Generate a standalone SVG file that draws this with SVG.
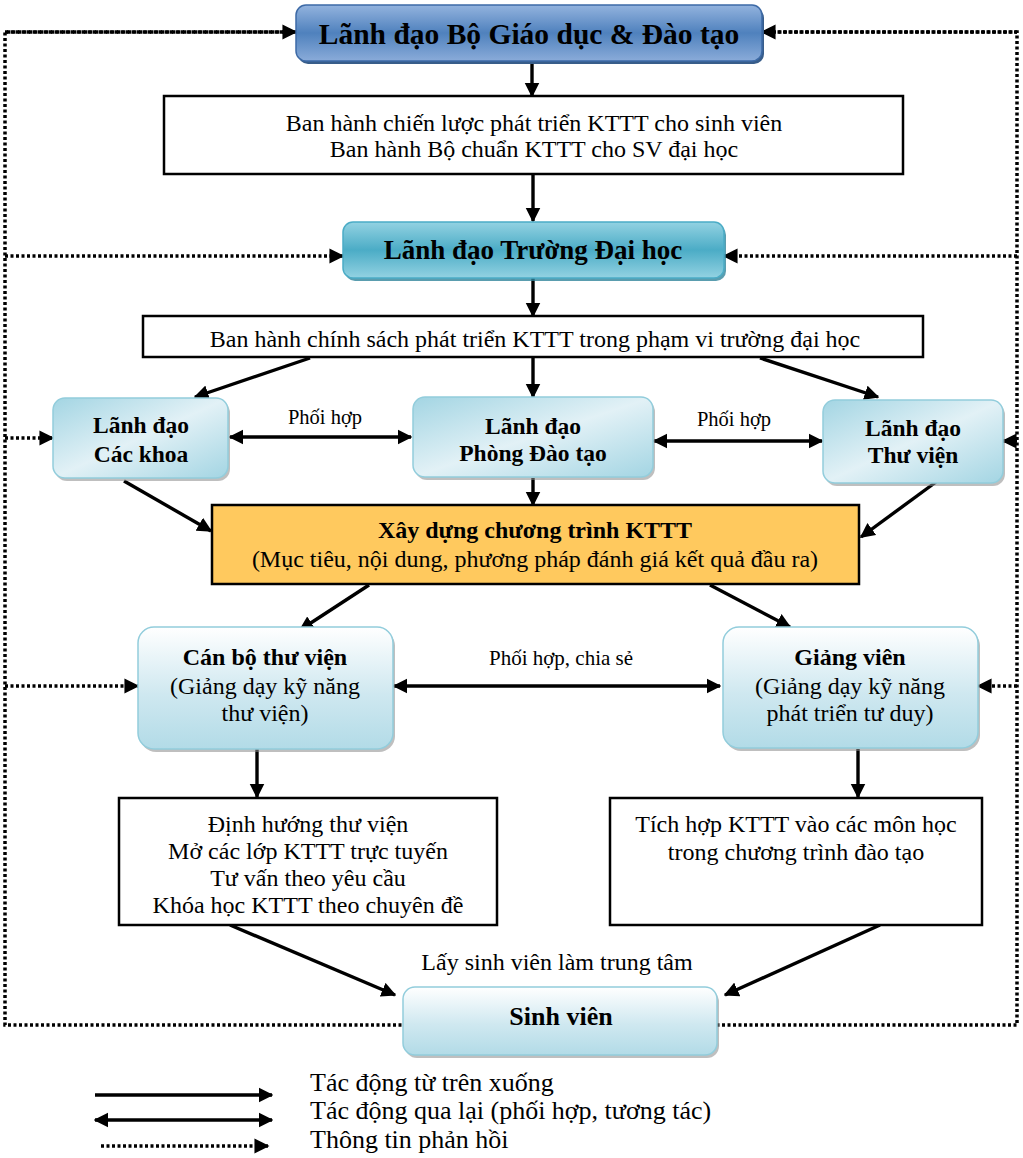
<svg xmlns="http://www.w3.org/2000/svg" width="1023" height="1158" viewBox="0 0 1023 1158">
<defs>
<linearGradient id="gBlue" x1="0" y1="0" x2="0" y2="1">
<stop offset="0" stop-color="#93b3de"/><stop offset="0.5" stop-color="#4f81bd"/><stop offset="1" stop-color="#8aabd9"/>
</linearGradient>
<linearGradient id="gTeal" x1="0" y1="0" x2="0" y2="1">
<stop offset="0" stop-color="#93d2e2"/><stop offset="0.5" stop-color="#4bacc6"/><stop offset="1" stop-color="#93d2e2"/>
</linearGradient>
<linearGradient id="gDiag" x1="0" y1="0" x2="1" y2="1">
<stop offset="0" stop-color="#a3d5e3"/><stop offset="0.5" stop-color="#e2f1f6"/><stop offset="1" stop-color="#a3d5e3"/>
</linearGradient>
<linearGradient id="gVert" x1="0" y1="0" x2="0" y2="1">
<stop offset="0" stop-color="#ffffff"/><stop offset="0.55" stop-color="#cfe8f0"/><stop offset="1" stop-color="#b2dbe7"/>
</linearGradient>
<marker id="ah" viewBox="0 0 10 10" refX="9" refY="5" markerWidth="4.4" markerHeight="4.6" orient="auto-start-reverse" markerUnits="strokeWidth">
<path d="M0,0 L10,5 L0,10 z" fill="#000"/>
</marker>
<marker id="ahd" viewBox="0 0 10 10" refX="9" refY="5" markerWidth="4.3" markerHeight="4.6" orient="auto-start-reverse" markerUnits="strokeWidth">
<path d="M0,0 L10,5 L0,10 z" fill="#000"/>
</marker>
</defs>
<style>
text{font-family:"Liberation Serif","Times New Roman",serif;fill:#000;text-anchor:middle}
.b{font-weight:bold}
.plain{fill:#fff;stroke:#000;stroke-width:2.5}
.light{stroke:#92cddc;stroke-width:1.5}
.shadow{fill:#8a8a8a;opacity:0.55}
.solid{stroke:#000;stroke-width:3.4;fill:none;marker-end:url(#ah)}
.both{stroke:#000;stroke-width:3.4;fill:none;marker-end:url(#ah);marker-start:url(#ah)}
.dot{stroke:#000;stroke-width:3.5;fill:none;stroke-dasharray:3 2.5}
.dota{stroke:#000;stroke-width:3.5;fill:none;stroke-dasharray:3 2.5;marker-end:url(#ahd)}
</style>
<rect width="1023" height="1158" fill="#fff"/>

<g id="connectors">
<polyline class="dot" points="296,32 5,32 5,1025 403,1025"/>
<polyline class="dot" points="762,32 1017,32 1017,1025 717,1025"/>
<line class="dota" x1="5" y1="32" x2="296" y2="32"/>
<line class="dota" x1="1017" y1="32" x2="762" y2="32"/>
<line class="dota" x1="5" y1="256" x2="343" y2="256"/>
<line class="dota" x1="1017" y1="256" x2="724" y2="256"/>
<line class="dota" x1="5" y1="438" x2="53" y2="438"/>
<line class="dota" x1="1017" y1="441" x2="1003" y2="441"/>
<line class="dota" x1="5" y1="686" x2="138" y2="686"/>
<line class="dota" x1="1017" y1="686" x2="978" y2="686"/>
<line class="solid" x1="532" y1="61" x2="532" y2="96"/>
<line class="solid" x1="533" y1="174" x2="533" y2="221"/>
<line class="solid" x1="533" y1="278" x2="533" y2="316"/>
<line class="solid" x1="310" y1="358" x2="195" y2="397"/>
<line class="solid" x1="533" y1="358" x2="533" y2="397"/>
<line class="solid" x1="760" y1="358" x2="878" y2="397"/>
<line class="solid" x1="124" y1="481" x2="211" y2="531"/>
<line class="solid" x1="533" y1="478" x2="533" y2="505"/>
<line class="solid" x1="936" y1="482" x2="861" y2="537"/>
<line class="solid" x1="369" y1="585" x2="300" y2="630"/>
<line class="solid" x1="710" y1="585" x2="790" y2="627"/>
<line class="solid" x1="257" y1="749" x2="257" y2="797"/>
<line class="solid" x1="858" y1="749" x2="858" y2="797"/>
<line class="solid" x1="230" y1="925" x2="395" y2="995"/>
<line class="solid" x1="880" y1="925" x2="725" y2="995"/>
<line class="both" x1="230" y1="437" x2="411" y2="437"/>
<line class="both" x1="654" y1="441" x2="822" y2="441"/>
<line class="both" x1="394" y1="686" x2="720" y2="686"/>
</g>

<g id="n1">
<rect x="298" y="8" width="466" height="56" rx="10" fill="#385d8a"/>
<rect x="296" y="5" width="466" height="56" rx="10" fill="url(#gBlue)" stroke="#3d6aa6" stroke-width="1.5"/>
<text class="b" x="529" y="44" font-size="29.5">Lãnh đạo Bộ Giáo dục &amp; Đào tạo</text>
</g>
<g id="n2">
<rect class="plain" x="164" y="96" width="739" height="78"/>
<text x="534" y="131" font-size="24">Ban hành chiến lược phát triển KTTT cho sinh viên</text>
<text x="534" y="157" font-size="24">Ban hành Bộ chuẩn KTTT cho SV đại học</text>
</g>
<g id="n3">
<rect x="345" y="225" width="381" height="56" rx="10" fill="#31849b" opacity="0.8"/>
<rect x="343" y="222" width="381" height="56" rx="10" fill="url(#gTeal)" stroke="#4bacc6" stroke-width="1.5"/>
<text class="b" x="533" y="259" font-size="27">Lãnh đạo Trường Đại học</text>
</g>
<g id="n4">
<rect class="plain" x="143" y="316" width="780" height="41"/>
<text x="535" y="347" font-size="24">Ban hành chính sách phát triển KTTT trong phạm vi trường đại học</text>
</g>
<g id="n5">
<rect class="shadow" x="55" y="401" width="175" height="80" rx="12"/>
<rect class="light" x="53" y="398" width="175" height="80" rx="12" fill="url(#gDiag)"/>
<text class="b" x="141" y="433" font-size="23.5">Lãnh đạo</text>
<text class="b" x="141" y="462" font-size="23.5">Các khoa</text>
</g>
<g id="n6">
<rect class="shadow" x="415" y="400" width="240" height="80" rx="12"/>
<rect class="light" x="413" y="397" width="240" height="80" rx="12" fill="url(#gDiag)"/>
<text class="b" x="533" y="434" font-size="23.5">Lãnh đạo</text>
<text class="b" x="533" y="461" font-size="23.5">Phòng Đào tạo</text>
</g>
<g id="n7">
<rect class="shadow" x="825" y="403" width="180" height="83" rx="12"/>
<rect class="light" x="823" y="400" width="180" height="83" rx="12" fill="url(#gDiag)"/>
<text class="b" x="913" y="436" font-size="23.5">Lãnh đạo</text>
<text class="b" x="913" y="463" font-size="23.5">Thư viện</text>
</g>
<g id="n8">
<rect x="212" y="505" width="647" height="79" fill="#ffc95e" stroke="#000" stroke-width="2.5"/>
<text class="b" x="535" y="538" font-size="24">Xây dựng chương trình KTTT</text>
<text x="535" y="567" font-size="24">(Mục tiêu, nội dung, phương pháp đánh giá kết quả đầu ra)</text>
</g>
<g id="n9">
<rect class="shadow" x="140" y="630" width="255" height="122" rx="16"/>
<rect class="light" x="138" y="627" width="255" height="122" rx="16" fill="url(#gVert)"/>
<text class="b" x="265" y="665" font-size="24">Cán bộ thư viện</text>
<text x="265" y="694" font-size="24">(Giảng dạy kỹ năng</text>
<text x="265" y="721" font-size="24">thư viện)</text>
</g>
<g id="n10">
<rect class="shadow" x="725" y="630" width="255" height="121" rx="16"/>
<rect class="light" x="723" y="627" width="255" height="121" rx="16" fill="url(#gVert)"/>
<text class="b" x="850" y="665" font-size="24">Giảng viên</text>
<text x="850" y="694" font-size="24">(Giảng dạy kỹ năng</text>
<text x="850" y="721" font-size="24">phát triển tư duy)</text>
</g>
<g id="n11">
<rect class="plain" x="119" y="798" width="378" height="127"/>
<text x="308" y="832" font-size="24">Định hướng thư viện</text>
<text x="308" y="859" font-size="24">Mở các lớp KTTT trực tuyến</text>
<text x="308" y="886" font-size="24">Tư vấn theo yêu cầu</text>
<text x="308" y="913" font-size="24">Khóa học KTTT theo chuyên đề</text>
</g>
<g id="n12">
<rect class="plain" x="610" y="798" width="372" height="127"/>
<text x="796" y="832" font-size="24">Tích hợp KTTT vào các môn học</text>
<text x="796" y="860" font-size="24">trong chương trình đào tạo</text>
</g>
<g id="n13">
<rect class="shadow" x="405" y="990" width="314" height="68" rx="12"/>
<rect class="light" x="403" y="987" width="314" height="68" rx="12" fill="url(#gVert)"/>
<text class="b" x="561" y="1025" font-size="26">Sinh viên</text>
</g>

<g id="labels">
<text x="325" y="424" font-size="20.5">Phối hợp</text>
<text x="734" y="426" font-size="20.5">Phối hợp</text>
<text x="561" y="665" font-size="21">Phối hợp, chia sẻ</text>
<text x="557" y="970" font-size="24">Lấy sinh viên làm trung tâm</text>
</g>

<g id="legend">
<line class="solid" x1="95" y1="1095" x2="272" y2="1095"/>
<line class="both" x1="95" y1="1120" x2="272" y2="1120"/>
<line class="dota" x1="101" y1="1146" x2="268" y2="1146"/>
<text x="310" y="1091" font-size="26" style="text-anchor:start">Tác động từ trên xuống</text>
<text x="310" y="1119" font-size="26" style="text-anchor:start">Tác động qua lại (phối hợp, tương tác)</text>
<text x="310" y="1148" font-size="26" style="text-anchor:start">Thông tin phản hồi</text>
</g>
</svg>
